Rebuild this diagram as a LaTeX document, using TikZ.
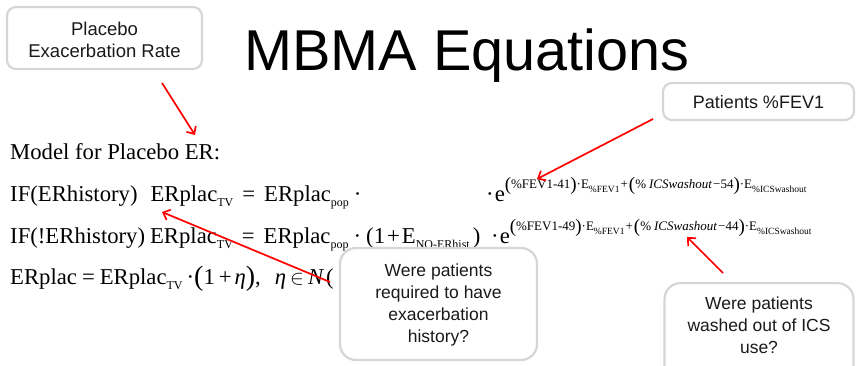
\documentclass[tikz,border=0pt]{standalone}
\usepackage{fontspec}
\setmainfont{Liberation Serif}
\newfontfamily\arialfont{Liberation Sans}
\usetikzlibrary{arrows.meta}

\definecolor{boxgray}{HTML}{D6D6D6}
\definecolor{boxtext}{HTML}{1A1A1A}

% equation building blocks
\newcommand\eqsz{\fontsize{22.7}{27}\selectfont}
\newcommand\lsub[1]{\raisebox{-5.5pt}{\fontsize{12}{12}\selectfont #1}}
\newcommand\expo[1]{\raisebox{13pt}{\fontsize{13}{13}\selectfont #1}}
\newcommand\esub[1]{\raisebox{-4pt}{\fontsize{9.5}{9.5}\selectfont #1}}
\newcommand\ep[1]{\raisebox{-2.5pt}{\fontsize{19}{19}\selectfont #1}}
\newcommand\lp[1]{\raisebox{-1pt}{\fontsize{28}{28}\selectfont #1}}

\begin{document}
\begin{tikzpicture}[x=1pt,y=-1pt,
  callout/.style={draw=boxgray, line width=2.2pt, rounded corners=9pt, fill=white},
  bigcallout/.style={callout, rounded corners=16pt},
  boxlabel/.style={font=\arialfont\fontsize{17.5}{22}\selectfont, text=boxtext, align=center, inner sep=0pt},
  eq/.style={anchor=base west, inner sep=0pt, font=\eqsz},
  pointer/.style={draw=red, line width=1.7pt, -{Straight Barb[length=6pt,width=11pt]}}]
\useasboundingbox (0,0) rectangle (856,366);

% title
\node[anchor=base, inner sep=0pt, font=\arialfont\fontsize{57.6}{60}\selectfont] (title) at (467,71) {MBMA Equations};

% equations
\node[eq] (l1) at (10,160) {Model for Placebo ER:};

\node[eq] (l2a) at (10,201) {IF(ERhistory)\hspace{13pt}ERplac\lsub{TV}\hspace{9pt}=\hspace{9pt}ERplac\lsub{pop}\hspace{5pt}·};
\node[eq] (l2b) at (486,201) {·\hspace{1pt}e\expo{\ep{(}\%FEV1-41\ep{)}·E\esub{\%FEV1}\hspace{1pt}+\hspace{1pt}\ep{(}\%\hspace{3pt}\textit{ICSwashout}\hspace{1pt}−54\ep{)}·E\esub{\%ICSwashout}}};

\node[eq] (l3a) at (10,243) {IF(!ERhistory)\hspace{5pt}ERplac\lsub{TV}\hspace{9pt}=\hspace{9pt}ERplac\lsub{pop}\hspace{5pt}·};
\node[eq] (l3b) at (366,243) {(1\hspace{2pt}+\hspace{2pt}E\lsub{NO-ERhist}\hspace{3pt})};
\node[eq] (l3c) at (491,243) {·\hspace{1pt}e\expo{\ep{(}\%FEV1-49\ep{)}·E\esub{\%FEV1}\hspace{1pt}+\hspace{1pt}\ep{(}\%\hspace{3pt}\textit{ICSwashout}\hspace{1pt}−44\ep{)}·E\esub{\%ICSwashout}}};

\node[eq] (l4) at (10,284) {ERplac\hspace{5pt}=\hspace{5pt}ERplac\lsub{TV}\hspace{4pt}·\lp{(}1\hspace{4pt}+\hspace{3pt}\textit{η}\lp{)},\hspace{14pt}\textit{η}\hspace{4pt}$\in$\hspace{4pt}\textit{N}\hspace{2pt}(};

% callout boxes
\node[callout, minimum width=195, minimum height=62] (placebo) at (104.5,38) {};
\node[boxlabel, font=\arialfont\fontsize{18.5}{22}\selectfont] (placebotxt) at (104.5,40) {Placebo\\Exacerbation Rate};

\node[callout, minimum width=191, minimum height=37] (fev) at (758.5,101.5) {};
\node[boxlabel, font=\arialfont\fontsize{18}{22}\selectfont] (fevtxt) at (758.5,102) {Patients \%FEV1};

\node[bigcallout, minimum width=197, minimum height=112] (hist) at (438.5,304) {};
\node[boxlabel] (histtxt) at (438.5,305) {Were patients\\required to have\\exacerbation\\history?};

\node[bigcallout, minimum width=189, minimum height=100, anchor=north] (wash) at (759,282) {};
\node[boxlabel] (washtxt) at (759,325) {Were patients\\washed out of ICS\\use?};

% pointer arrows
\coordinate (p1s) at (162,83);  \coordinate (p1e) at (195,135);
\coordinate (p2s) at (653,119); \coordinate (p2e) at (537,179);
\coordinate (p3s) at (330,282); \coordinate (p3e) at (162,212);
\coordinate (p4s) at (723,273); \coordinate (p4e) at (687,237);
\draw[pointer] (p1s) -- (p1e);
\draw[pointer] (p2s) -- (p2e);
\draw[pointer] (p3s) -- (p3e);
\draw[pointer] (p4s) -- (p4e);
\end{tikzpicture}
\end{document}
